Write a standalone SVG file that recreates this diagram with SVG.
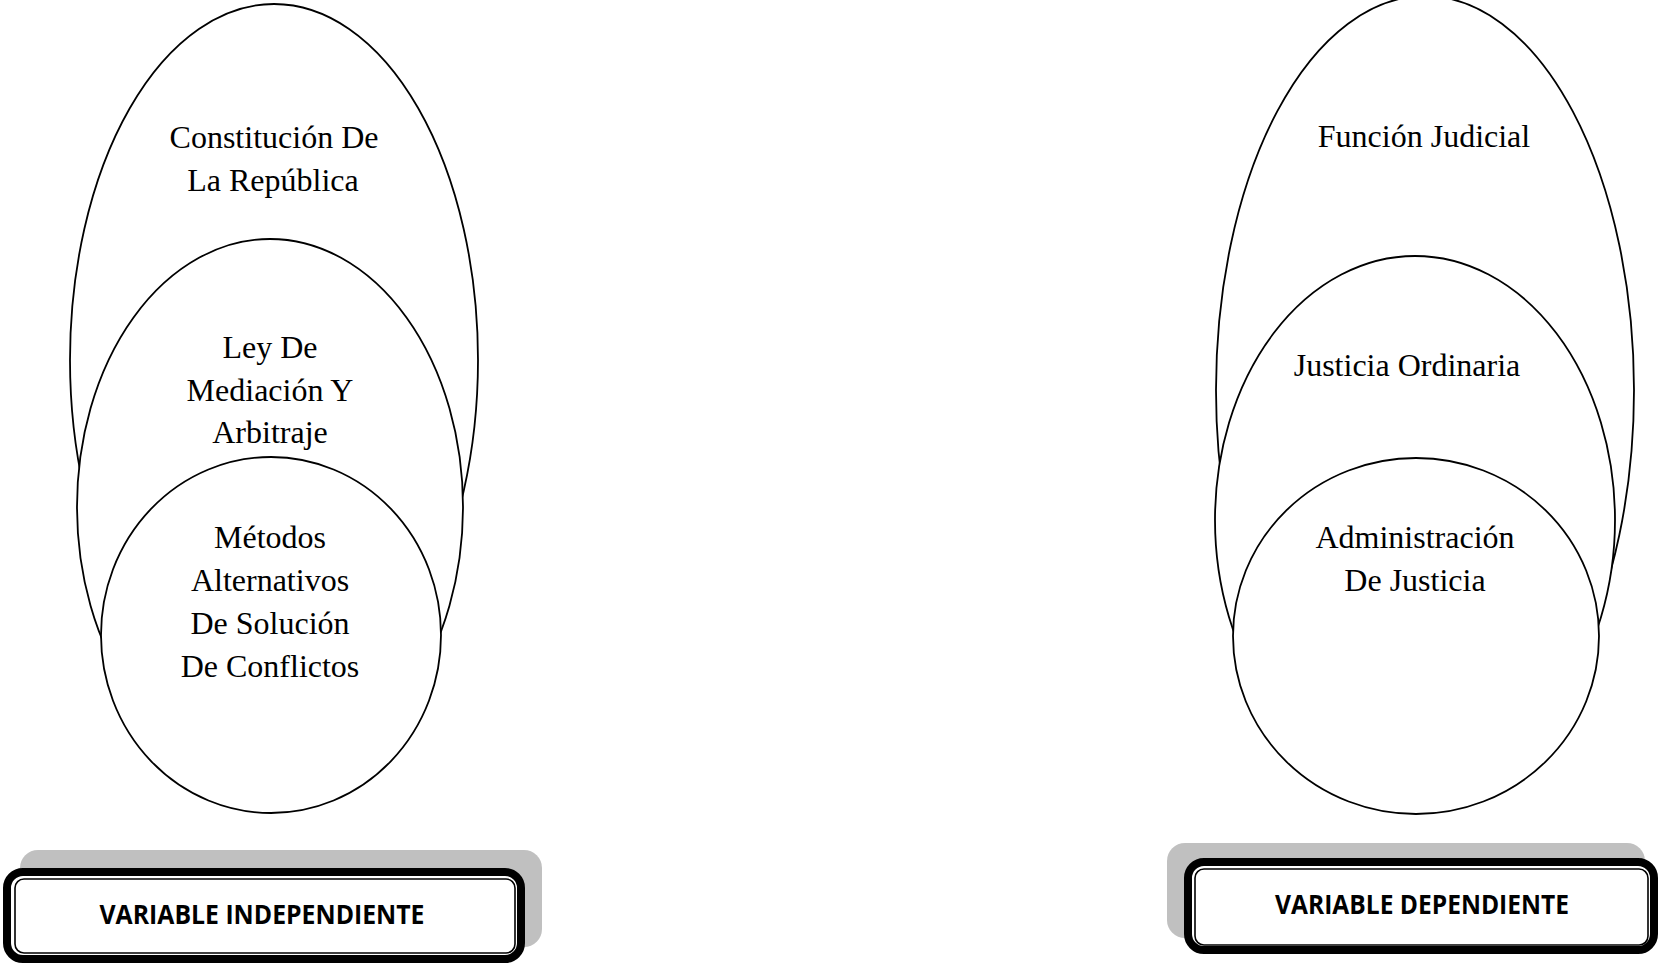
<svg xmlns="http://www.w3.org/2000/svg" width="1660" height="964" viewBox="0 0 1660 964">
<style>
.ell{fill:#ffffff;stroke:#000000;stroke-width:1.8}
.lbl{font-family:"Liberation Serif","Times New Roman",serif;font-size:32px;fill:#000000;text-anchor:middle}
.shadow{fill:#c0c0c0;stroke:none}
.thick{fill:#ffffff;stroke:#000000;stroke-width:8}
.thin{fill:none;stroke:#000000;stroke-width:1.6}
.var{font-family:"Open Sans","Liberation Sans",sans-serif;font-weight:bold;font-size:27px;fill:#000000;text-anchor:middle}
</style>
<rect width="1660" height="964" fill="#ffffff"/>
<g id="constitucion">
<ellipse class="ell" cx="274" cy="360" rx="204" ry="356"/>
<text class="lbl" x="274" y="148">Constitución De</text>
<text class="lbl" x="273" y="191">La República</text>
</g>
<g id="ley-mediacion">
<ellipse class="ell" cx="270" cy="507" rx="193" ry="268"/>
<text class="lbl" x="270" y="358">Ley De</text>
<text class="lbl" x="270" y="401">Mediación Y</text>
<text class="lbl" x="270" y="443">Arbitraje</text>
</g>
<g id="metodos">
<ellipse class="ell" cx="271" cy="635" rx="170" ry="178"/>
<text class="lbl" x="270" y="548">Métodos</text>
<text class="lbl" x="270" y="591">Alternativos</text>
<text class="lbl" x="270" y="634">De Solución</text>
<text class="lbl" x="270" y="677">De Conflictos</text>
</g>
<g id="funcion-judicial">
<ellipse class="ell" cx="1425" cy="390" rx="209" ry="394"/>
<text class="lbl" x="1424" y="147">Función Judicial</text>
</g>
<g id="justicia-ordinaria">
<ellipse class="ell" cx="1415" cy="520" rx="200" ry="264"/>
<text class="lbl" x="1407" y="376">Justicia Ordinaria</text>
</g>
<g id="administracion">
<ellipse class="ell" cx="1416" cy="636" rx="183" ry="178"/>
<text class="lbl" x="1415" y="548">Administración</text>
<text class="lbl" x="1415" y="591">De Justicia</text>
</g>
<g id="variable-independiente">
<rect class="shadow" x="20" y="850" width="522" height="97" rx="18"/>
<rect class="thick" x="7" y="872" width="514" height="87" rx="16"/>
<rect class="thin" x="15" y="879" width="500" height="74" rx="9"/>
<text class="var" x="262" y="924" textLength="325" lengthAdjust="spacingAndGlyphs">VARIABLE INDEPENDIENTE</text>
</g>
<g id="variable-dependiente">
<rect class="shadow" x="1167" y="843" width="478" height="95" rx="18"/>
<rect class="thick" x="1188" y="862" width="466" height="88" rx="16"/>
<rect class="thin" x="1195" y="869" width="453" height="76" rx="9"/>
<text class="var" x="1422" y="914" textLength="294" lengthAdjust="spacingAndGlyphs">VARIABLE DEPENDIENTE</text>
</g>
<g id="connectors"></g>
</svg>
